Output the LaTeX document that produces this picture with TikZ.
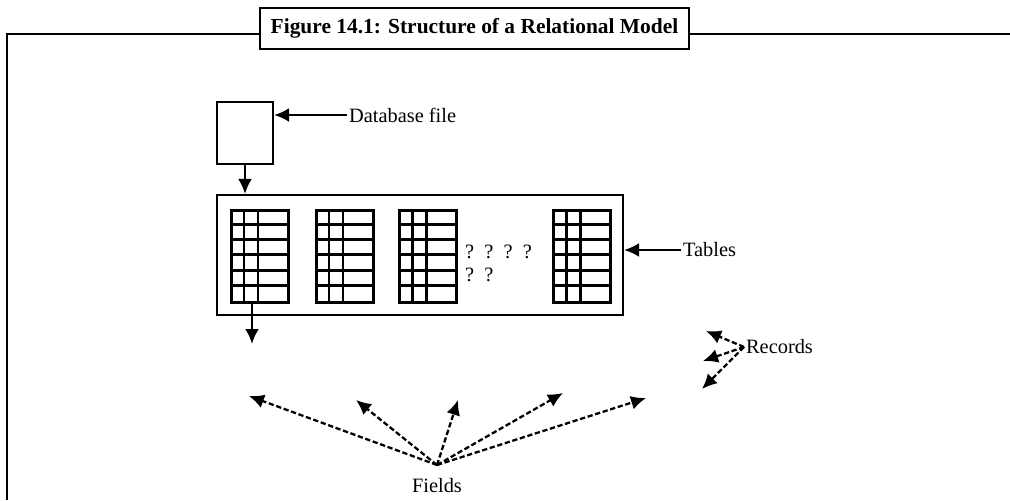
\documentclass[tikz,border=0pt]{standalone}
\usepackage{fontspec}
\setmainfont{Liberation Serif}
\usetikzlibrary{arrows.meta,positioning}

\begin{document}
\begin{tikzpicture}[x=0.02cm,y=-0.02cm,
box/.style={rectangle,draw,line width=1.2pt,inner sep=0pt},
lbl/.style={font=\fontsize{11.6}{13}\selectfont,inner sep=1pt},
tablebox/.style={rectangle,draw,line width=1.5pt,inner sep=0pt,anchor=north west,
minimum width=1.14cm,minimum height=1.84cm},
tablegrid/.style={line width=1.7pt},
arrow/.style={-{Latex[length=3mm,width=2.8mm]},line width=1.5pt},
dasharrow/.style={-{Latex[length=3mm,width=2.8mm]},line width=1.3pt,dash pattern=on 3pt off 1.5pt}]
\useasboundingbox (0,0) rectangle (1010,500);
% outer frame with title
\draw[line width=1.5pt] (7,500) -- (7,34) -- (1010,34);
\node[box,fill=white,minimum width=8.58cm,minimum height=0.82cm,
font=\bfseries\fontsize{12.2}{14}\selectfont] (title) at (474.5,28.5)
{Figure 14.1: Structure of a Relational Model};
% database file
\node[box,minimum width=1.12cm,minimum height=1.24cm] (dbfile) at (245,133) {};
\node[lbl,anchor=west] (dblabel) at (347,115) {Database file};
\draw[arrow] (dblabel.west) -- (dblabel.west -| dbfile.east);
% tables
\node[box,minimum width=8.12cm,minimum height=2.4cm] (tables) at (420,255) {};
\draw[arrow] (dbfile.south) -- (dbfile.south |- tables.north);
\foreach \tx/\n in {230/1,315/2,398/3,552/4}{
  \node[tablebox] (t\n) at (\tx,209) {};
  \foreach \c in {14,28}
    \draw[tablegrid] (\tx+\c,209) -- (\tx+\c,301);
  \foreach \r in {1,...,5}
    \draw[tablegrid] (\tx,209+\r*15.33) -- (\tx+57,209+\r*15.33);
}
\node[lbl,anchor=west] (dots) at (463,252) {?\ \ ?\ \ ?\ \ ?};
\node[lbl,anchor=west] (dots2) at (463,275) {?\ \ ?};
\node[lbl,anchor=west] (tlabel) at (681,250) {Tables};
\draw[arrow] (tlabel.west) -- (tlabel.west -| tables.east);
% record arrow
\coordinate (rowtip) at (252,344);
\draw[arrow] (t1.south -| rowtip) -- (rowtip);
% fields
\node[lbl] (fields) at (437,486) {Fields};
\coordinate (fo) at (437,465);
\coordinate (f1) at (249,396);
\coordinate (f2) at (356,400);
\coordinate (f3) at (458,400);
\coordinate (f4) at (563,393);
\coordinate (f5) at (646,398);
\foreach \p in {f1,f2,f3,f4,f5}
  \draw[dasharrow] (fo) -- (\p);
% records
\node[lbl,anchor=west] (records) at (744,347) {Records};
\coordinate (r1) at (706,331);
\coordinate (r2) at (703,361);
\coordinate (r3) at (702,389);
\foreach \p in {r1,r2,r3}
  \draw[dasharrow] (records.west) -- (\p);
\end{tikzpicture}
\end{document}
